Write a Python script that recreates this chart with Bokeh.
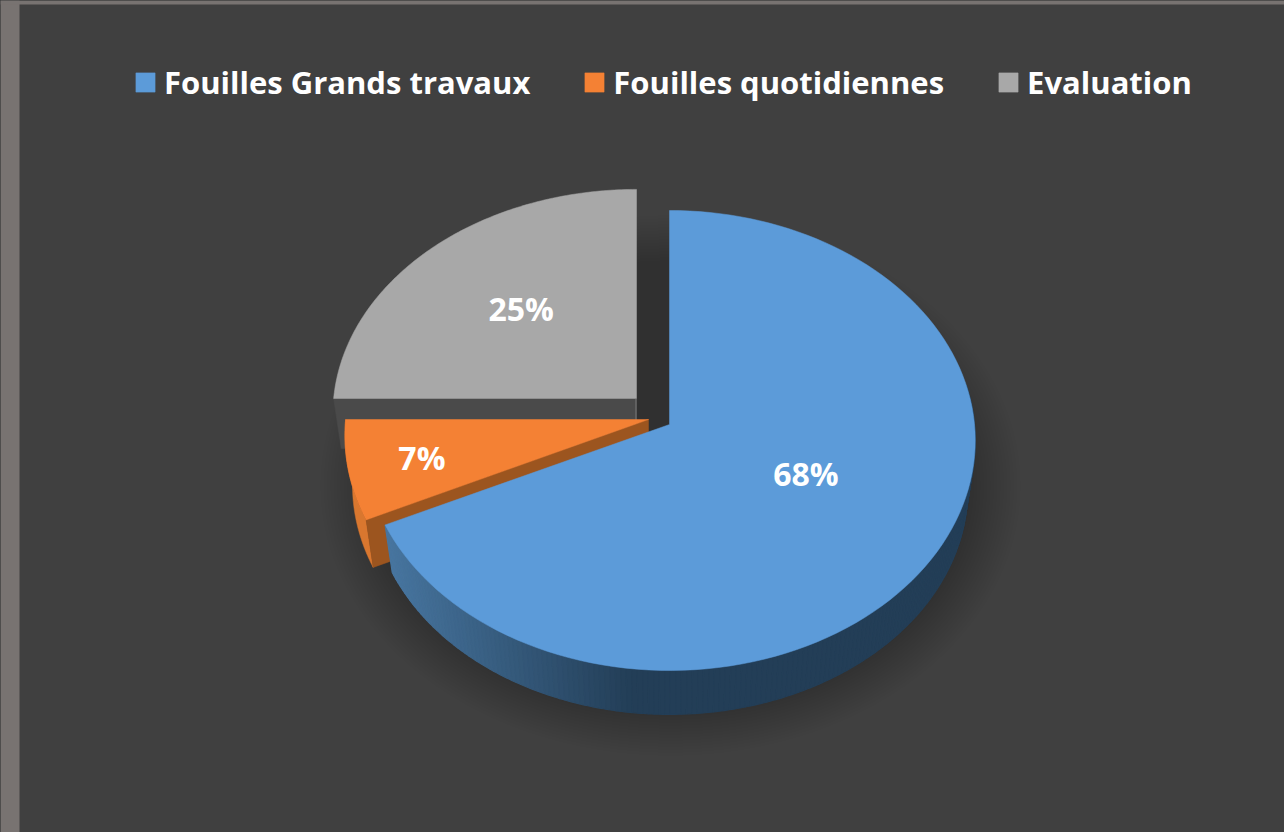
import math
from bokeh.core.properties import value
from bokeh.embed import file_html
from bokeh.models import GlobalInlineStyleSheet, Legend, LegendItem, Range1d
from bokeh.plotting import figure
from bokeh.resources import INLINE

# data
categories = ["Fouilles Grands travaux", "Fouilles quotidiennes", "Evaluation"]
shares = [68, 7, 25]
share_labels = ["68%", "7%", "25%"]

# styles
top_colors = ["#5c9bd9", "#f48134", "#a8a8a8"]
face_colors = ["#47759f", "#9c551f", "#4a4a4a"]
wall_colors = ["#233e57", "#d9772f", "#4a4a4a"]
BG = "#404040"
EDGE = "#787371"
W, H = 1284, 832
FONT = "Open Sans"

# layout: apex of each slice, with the perspective model of the disc
apex = [(669, 424), (648, 419), (636, 398)]
x_scale = [1.0, 0.993, 0.993]
y_scale = [1.0, 1.0, 0.977]
A, B, PERSP = 305.0, 228.9, 0.0695
DEPTH, BOTTOM_SCALE = 50.0, 0.975
label_offset = [(0.51, 0.385), (0.755, 0.75), (0.565, 0.60)]


def project(i, deg, scale=1.0, drop=0.0):
    t = math.radians(deg)
    u, v = math.sin(t), math.cos(t)
    d = 1 + PERSP * v
    ax, ay = apex[i]
    return (ax + scale * A * x_scale[i] * u / d, ay - scale * B * y_scale[i] * v / d + drop)


def arc(i, a0, a1, scale=1.0, drop=0.0, n=120):
    return [project(i, a0 + (a1 - a0) * k / n, scale, drop) for k in range(n + 1)]


def mix(c0, c1, f):
    a = [int(c0[j:j + 2], 16) for j in (1, 3, 5)]
    b = [int(c1[j:j + 2], 16) for j in (1, 3, 5)]
    return "#%02x%02x%02x" % tuple(round(p + (q - p) * f) for p, q in zip(a, b))


total = sum(shares)
bounds = [0.0]
for s in shares:
    bounds.append(bounds[-1] + 360.0 * s / total)

p = figure(width=W, height=H, output_backend="svg", toolbar_location=None,
           x_range=Range1d(0, W), y_range=Range1d(H, 0), min_border=0,
           background_fill_color=BG, border_fill_color=BG, outline_line_color=None)
p.xaxis.visible = False
p.yaxis.visible = False
p.grid.visible = False
p.stylesheets = [GlobalInlineStyleSheet(
    css=f"html,body{{margin:0;padding:0;overflow:hidden;background:{BG}}}")]

# window edge
p.quad(left=0, right=19, top=0, bottom=H, fill_color=EDGE, line_color=None)
p.quad(left=0, right=W, top=0, bottom=4, fill_color=EDGE, line_color=None)

# soft shadow
LAYERS = 16
for k in range(LAYERS):
    f = k / (LAYERS - 1)
    rx, ry = 350 - 50 * f, 270 - 45 * f
    pts = [(670 + rx * math.cos(math.radians(a)), 485 + ry * math.sin(math.radians(a)))
           for a in range(0, 360, 3)]
    p.patch([q[0] for q in pts], [q[1] for q in pts], fill_color="#000000",
            fill_alpha=0.0125, line_color=None)


def draw_poly(pts, color, width=0.5):
    return p.patch([q[0] for q in pts], [q[1] for q in pts], fill_color=color,
                   line_color=color, line_width=width)


# grey slice: cut face, then top
i = 2
a0, a1 = bounds[2], bounds[3]
ax, ay = apex[i]
west = project(i, a0)
draw_poly([west, (ax, ay), (ax, ay + DEPTH), project(i, a0, BOTTOM_SCALE, DEPTH)], face_colors[i])
top_grey = draw_poly([(ax, ay)] + arc(i, a0, a1), top_colors[i])
p.line([ax - 0.5, ax - 0.5], [ay, ay + 22], line_color="#7a7a7a", line_width=1)

# orange slice: outer wall, cut face, top
i = 1
a0, a1 = bounds[1], bounds[2]
ax, ay = apex[i]
draw_poly(arc(i, a0, a1) + arc(i, a1, a0, BOTTOM_SCALE, DEPTH), wall_colors[i])
draw_poly([(ax, ay), project(i, a0), project(i, a0, BOTTOM_SCALE, DEPTH), (ax, ay + DEPTH)], face_colors[i])
top_orange = draw_poly([(ax, ay)] + arc(i, a0, a1), top_colors[i])

# blue slice: outer wall in strips, then top
i = 0
a0, a1 = bounds[0], bounds[1]
ax, ay = apex[i]
start, STRIPS = 80.0, 170
for k in range(STRIPS):
    s0 = a1 + (start - a1) * k / STRIPS
    s1 = a1 + (start - a1) * (k + 1) / STRIPS
    x0 = project(i, s0)[0]
    f = min(1.0, max(0.0, (x0 - 388) / 240.0))
    col = mix(face_colors[i], wall_colors[i], f)
    draw_poly(arc(i, s0, s1, n=2) + arc(i, s1, s0, BOTTOM_SCALE, DEPTH, n=2), col, width=1.2)
top_blue = draw_poly([(ax, ay)] + arc(i, a0, a1), top_colors[i])

# percentage labels
for i, lab in enumerate(share_labels):
    mid = (bounds[i] + bounds[i + 1]) / 2
    ex, ey = project(i, mid)
    fx, fy = label_offset[i]
    p.text(x=[apex[i][0] + (ex - apex[i][0]) * fx], y=[apex[i][1] + (ey - apex[i][1]) * fy],
           text=[lab], text_font=value(FONT), text_font_style="bold", text_font_size="32px",
           text_color="#ffffff", text_align="center", text_baseline="middle")

legend = Legend(
    items=[LegendItem(label=categories[0], renderers=[top_blue]),
           LegendItem(label=categories[1], renderers=[top_orange]),
           LegendItem(label=categories[2], renderers=[top_grey])],
    orientation="horizontal", location=(133, H - 103), background_fill_alpha=0,
    border_line_color=None, spacing=52, glyph_width=24, glyph_height=24, label_standoff=7,
    label_text_font=FONT, label_text_font_style="bold", label_text_font_size="31px",
    label_text_color="#ffffff", margin=0, padding=8)
p.add_layout(legend, "center")

open("out.html", "w").write(file_html(p, INLINE))
